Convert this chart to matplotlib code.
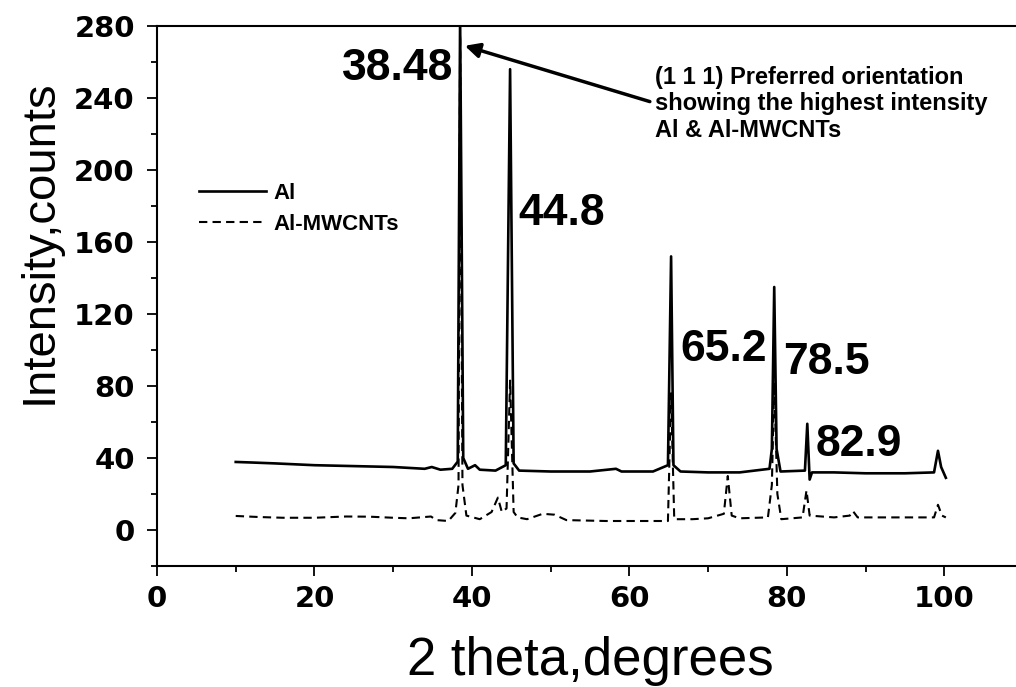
import matplotlib.pyplot as plt

# XRD patterns (2 theta in degrees, intensity in counts)
al_x = [10.0, 12, 15, 20, 25, 30, 34, 34.9, 36, 37.5, 38.2, 38.5, 38.9, 39.5,
        40.4, 41, 43, 44.3, 44.85, 45.3, 46, 50, 55, 58.3, 59, 63, 64.9, 65.3,
        65.6, 66.5, 70, 74, 77.8, 78.1, 78.4, 78.7, 79.2, 82.3, 82.6, 82.9,
        83.2, 86, 90, 95, 98.7, 99.2, 99.6, 100.2]
al_y = [37.8, 37.5, 37, 36, 35.5, 35, 34, 35, 33.5, 34, 38, 285, 40, 34,
        36, 33.5, 33, 36, 256, 37, 33, 32.5, 32.5, 34, 32.5, 32.5, 36, 152,
        36, 32.5, 32, 32, 34, 45, 135, 45, 32.5, 33, 59, 28,
        32, 32, 31.5, 31.5, 32, 44, 35, 29]

cnt_x = [10, 13, 16, 20, 24, 27, 30, 32, 34.8, 35.5, 37, 37.9, 38.3, 38.5,
         38.8, 39.3, 41, 42.5, 43.3, 43.8, 44.4, 44.85, 45.3, 45.8, 47, 49,
         50.5, 52, 57, 60, 64.9, 65.3, 65.7, 68, 70, 72, 72.5, 73, 74, 77.6,
         78.1, 78.4, 78.8, 79.3, 82, 82.5, 82.9, 86, 88, 88.4, 89, 95, 98.7,
         99.2, 99.7, 100.2]
cnt_y = [7.8, 7.2, 6.8, 6.8, 7.5, 7.4, 6.8, 6.5, 7.5, 5.5, 5, 9.5, 25, 275,
         25, 8, 6, 10, 18, 10, 12, 83, 10, 7, 6, 9,
         8.5, 5.5, 5, 5, 5, 76, 6, 6, 6.5, 9, 30, 8, 6.5, 7,
         25, 82, 20, 6, 7, 22, 8, 7, 8, 10.5, 7, 7, 7,
         14, 8, 7]

peak_labels = ["38.48", "44.8", "65.2", "78.5", "82.9"]

fig = plt.figure(figsize=(10.16, 6.87), dpi=100)
ax = fig.add_axes([157 / 1016, 121 / 687, 866 / 1016, 540 / 687])

ax.plot(al_x, al_y, color="black", lw=1.9, label="Al")
ax.plot(cnt_x, cnt_y, color="black", lw=1.5, linestyle=(0, (4, 2.5)),
        label="Al-MWCNTs")

ax.set_xlim(0, 110)
ax.set_ylim(-20, 280)
ax.set_xticks(range(0, 101, 20))
ax.set_xticks(range(10, 110, 20), minor=True)
ax.set_yticks(range(0, 281, 40))
ax.set_yticks(range(-20, 281, 40), minor=True)

for side in ["left", "bottom", "top"]:
    ax.spines[side].set_linewidth(1.5)
ax.spines["right"].set_visible(False)

ax.tick_params(which="both", direction="out", width=1.3, top=False, right=False)
ax.tick_params(which="major", length=7)
ax.tick_params(which="minor", length=4)
ax.tick_params(axis="x", pad=7)
ax.tick_params(axis="y", pad=9)
for lab in ax.get_xticklabels() + ax.get_yticklabels():
    lab.set_fontfamily("DejaVu Sans")
    lab.set_fontweight("bold")
    lab.set_fontsize(21)

# axis titles
fig.text(590 / 1016, 12 / 687, "2 theta,degrees", ha="center", va="baseline",
         fontsize=38, family="Liberation Sans")
fig.text(40 / 1016, 1 - 242 / 687, "Intensity,counts", ha="center", va="center",
         rotation=90, fontsize=34, family="Liberation Sans")

# peak positions
lab_kw = dict(fontsize=32, fontweight="bold", family="Liberation Sans",
              va="baseline")
ax.text(37.6, 250, peak_labels[0], ha="right", **lab_kw)
ax.text(45.9, 169.4, peak_labels[1], ha="left", **lab_kw)
ax.text(66.45, 93.9, peak_labels[2], ha="left", **lab_kw)
ax.text(79.5, 86.7, peak_labels[3], ha="left", **lab_kw)
ax.text(83.6, 41, peak_labels[4], ha="left", **lab_kw)

ax.annotate("", xy=(39.1, 269), xytext=(62.6, 238),
            arrowprops=dict(arrowstyle="-|>", lw=2.5, color="black",
                            mutation_scale=22, shrinkA=0, shrinkB=0))
ax.text(63.3, 258, "(1 1 1) Preferred orientation\nshowing the highest intensity\n"
        "Al & Al-MWCNTs", ha="left", va="top", fontsize=17, fontweight="bold",
        family="Liberation Sans", linespacing=1.2)

ax.legend(loc="upper left", bbox_to_anchor=(0.036, 0.73), frameon=False,
          borderpad=0, handlelength=3.0, handletextpad=0.35, labelspacing=0.45,
          prop=dict(family="Liberation Sans", weight="bold", size=16))

fig.savefig("out.png", dpi=100)
